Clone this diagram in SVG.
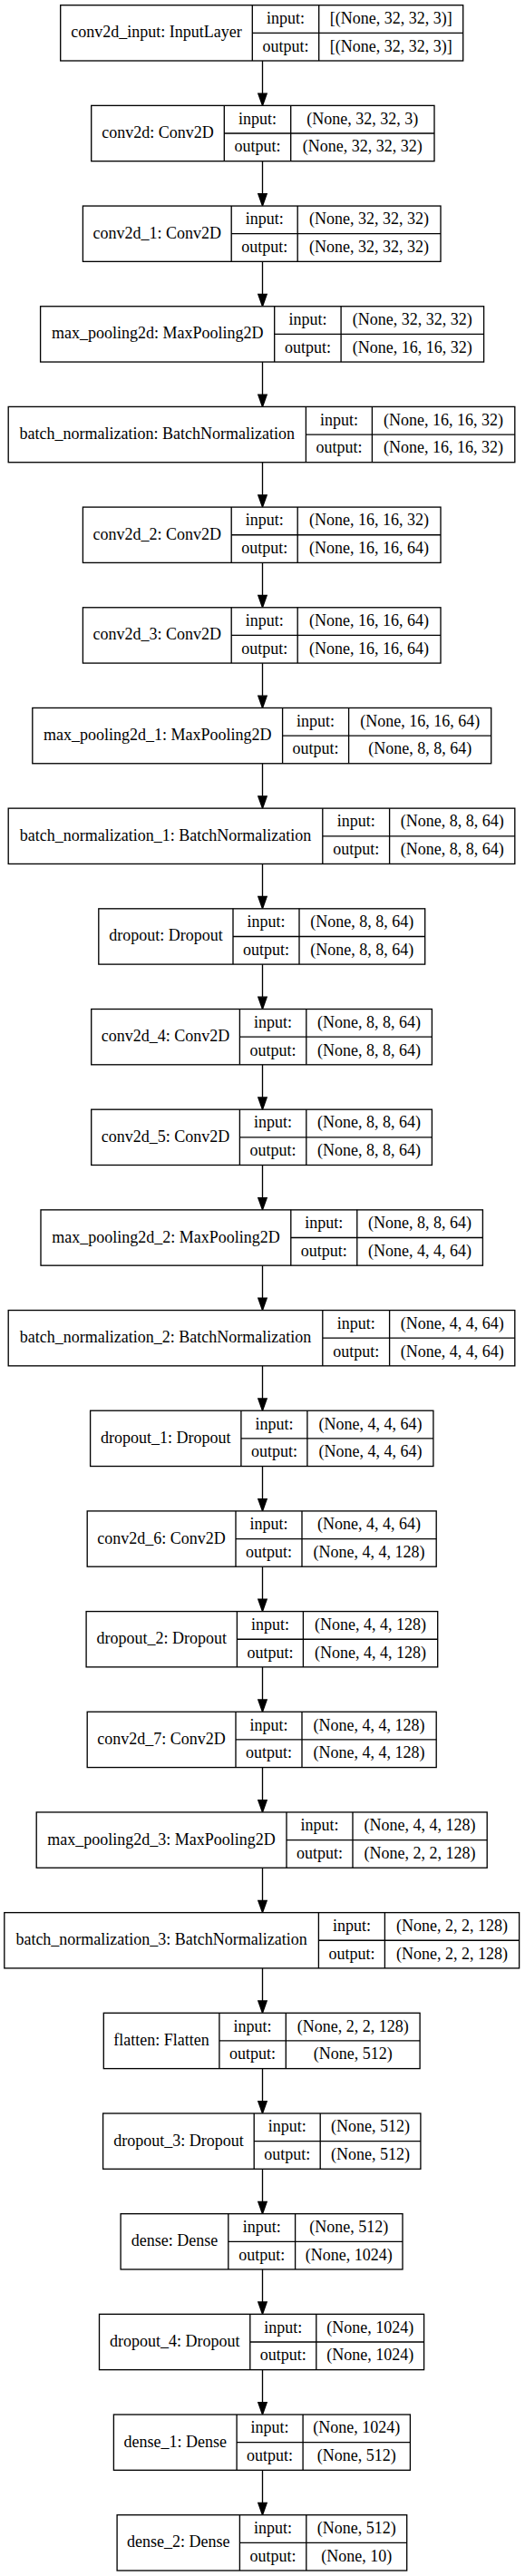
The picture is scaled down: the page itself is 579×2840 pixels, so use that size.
<svg xmlns="http://www.w3.org/2000/svg" xmlns:xlink="http://www.w3.org/1999/xlink" width="579" height="2840" viewBox="0 0 579 2840">
<style>
rect.b{fill:#fff;stroke:#000;stroke-width:1.33}
path.d{fill:none;stroke:#000;stroke-width:1.33}
text{font-family:"Liberation Serif","Times New Roman",serif;font-size:18px;text-anchor:middle;fill:#000}
.e line{stroke:#000;stroke-width:1.33}
.e polygon{fill:#000;stroke:#000;stroke-width:1.33}
</style>
<defs>
<g id="arr" class="e"><line x1="289.5" y1="0" x2="289.5" y2="36.1"/><polygon points="289.5,49.38 284.8,36.08 294.2,36.08"/></g>
</defs>
<rect x="0" y="0" width="579" height="2840" fill="#fff"/>
<g id="edges">
<use xlink:href="#arr" y="67"/>
<use xlink:href="#arr" y="177.68"/>
<use xlink:href="#arr" y="288.36"/>
<use xlink:href="#arr" y="399.04"/>
<use xlink:href="#arr" y="509.72"/>
<use xlink:href="#arr" y="620.4"/>
<use xlink:href="#arr" y="731.08"/>
<use xlink:href="#arr" y="841.76"/>
<use xlink:href="#arr" y="952.44"/>
<use xlink:href="#arr" y="1063.12"/>
<use xlink:href="#arr" y="1173.8"/>
<use xlink:href="#arr" y="1284.48"/>
<use xlink:href="#arr" y="1395.16"/>
<use xlink:href="#arr" y="1505.84"/>
<use xlink:href="#arr" y="1616.52"/>
<use xlink:href="#arr" y="1727.2"/>
<use xlink:href="#arr" y="1837.88"/>
<use xlink:href="#arr" y="1948.56"/>
<use xlink:href="#arr" y="2059.24"/>
<use xlink:href="#arr" y="2169.92"/>
<use xlink:href="#arr" y="2280.6"/>
<use xlink:href="#arr" y="2391.28"/>
<use xlink:href="#arr" y="2501.96"/>
<use xlink:href="#arr" y="2612.64"/>
<use xlink:href="#arr" y="2723.32"/>
</g>
<g id="n0" transform="translate(0,5.7)"><rect class="b" x="66.7" y="0" width="444" height="61.3"/><path class="d" d="M278.3 0V61.3M351.7 0V61.3M278.3 30.65H510.7"/><text x="172.5" y="35.65">conv2d_input: InputLayer</text><text x="315" y="20.3">input:</text><text x="315" y="51">output:</text><text x="431.2" y="20.3">[(None, 32, 32, 3)]</text><text x="431.2" y="51">[(None, 32, 32, 3)]</text></g>
<g id="n1" transform="translate(0,116.38)"><rect class="b" x="100.7" y="0" width="378.3" height="61.3"/><path class="d" d="M247.3 0V61.3M320.7 0V61.3M247.3 30.65H479"/><text x="174" y="35.65">conv2d: Conv2D</text><text x="284" y="20.3">input:</text><text x="284" y="51">output:</text><text x="399.85" y="20.3">(None, 32, 32, 3)</text><text x="399.85" y="51">(None, 32, 32, 32)</text></g>
<g id="n2" transform="translate(0,227.06)"><rect class="b" x="91.4" y="0" width="394.6" height="61.3"/><path class="d" d="M255.2 0V61.3M328.2 0V61.3M255.2 30.65H486"/><text x="173.3" y="35.65">conv2d_1: Conv2D</text><text x="291.7" y="20.3">input:</text><text x="291.7" y="51">output:</text><text x="407.1" y="20.3">(None, 32, 32, 32)</text><text x="407.1" y="51">(None, 32, 32, 32)</text></g>
<g id="n3" transform="translate(0,337.74)"><rect class="b" x="44.6" y="0" width="489" height="61.3"/><path class="d" d="M302.7 0V61.3M376.1 0V61.3M302.7 30.65H533.6"/><text x="173.65" y="35.65">max_pooling2d: MaxPooling2D</text><text x="339.4" y="20.3">input:</text><text x="339.4" y="51">output:</text><text x="454.85" y="20.3">(None, 32, 32, 32)</text><text x="454.85" y="51">(None, 16, 16, 32)</text></g>
<g id="n4" transform="translate(0,448.42)"><rect class="b" x="9.2" y="0" width="558.6" height="61.3"/><path class="d" d="M337.4 0V61.3M410.4 0V61.3M337.4 30.65H567.8"/><text x="173.3" y="35.65">batch_normalization: BatchNormalization</text><text x="373.9" y="20.3">input:</text><text x="373.9" y="51">output:</text><text x="489.1" y="20.3">(None, 16, 16, 32)</text><text x="489.1" y="51">(None, 16, 16, 32)</text></g>
<g id="n5" transform="translate(0,559.1)"><rect class="b" x="91.4" y="0" width="394.6" height="61.3"/><path class="d" d="M255.2 0V61.3M328.2 0V61.3M255.2 30.65H486"/><text x="173.3" y="35.65">conv2d_2: Conv2D</text><text x="291.7" y="20.3">input:</text><text x="291.7" y="51">output:</text><text x="407.1" y="20.3">(None, 16, 16, 32)</text><text x="407.1" y="51">(None, 16, 16, 64)</text></g>
<g id="n6" transform="translate(0,669.78)"><rect class="b" x="91.4" y="0" width="394.6" height="61.3"/><path class="d" d="M255.2 0V61.3M328.2 0V61.3M255.2 30.65H486"/><text x="173.3" y="35.65">conv2d_3: Conv2D</text><text x="291.7" y="20.3">input:</text><text x="291.7" y="51">output:</text><text x="407.1" y="20.3">(None, 16, 16, 64)</text><text x="407.1" y="51">(None, 16, 16, 64)</text></g>
<g id="n7" transform="translate(0,780.46)"><rect class="b" x="35.8" y="0" width="505.9" height="61.3"/><path class="d" d="M311.6 0V61.3M384.6 0V61.3M311.6 30.65H541.7"/><text x="173.7" y="35.65">max_pooling2d_1: MaxPooling2D</text><text x="348.1" y="20.3">input:</text><text x="348.1" y="51">output:</text><text x="463.15" y="20.3">(None, 16, 16, 64)</text><text x="463.15" y="51">(None, 8, 8, 64)</text></g>
<g id="n8" transform="translate(0,891.14)"><rect class="b" x="9.2" y="0" width="558.6" height="61.3"/><path class="d" d="M355.8 0V61.3M429.6 0V61.3M355.8 30.65H567.8"/><text x="182.5" y="35.65">batch_normalization_1: BatchNormalization</text><text x="392.7" y="20.3">input:</text><text x="392.7" y="51">output:</text><text x="498.7" y="20.3">(None, 8, 8, 64)</text><text x="498.7" y="51">(None, 8, 8, 64)</text></g>
<g id="n9" transform="translate(0,1001.82)"><rect class="b" x="108.8" y="0" width="359.9" height="61.3"/><path class="d" d="M257 0V61.3M330 0V61.3M257 30.65H468.7"/><text x="182.9" y="35.65">dropout: Dropout</text><text x="293.5" y="20.3">input:</text><text x="293.5" y="51">output:</text><text x="399.35" y="20.3">(None, 8, 8, 64)</text><text x="399.35" y="51">(None, 8, 8, 64)</text></g>
<g id="n10" transform="translate(0,1112.5)"><rect class="b" x="100.7" y="0" width="375.7" height="61.3"/><path class="d" d="M264.4 0V61.3M337.8 0V61.3M264.4 30.65H476.4"/><text x="182.55" y="35.65">conv2d_4: Conv2D</text><text x="301.1" y="20.3">input:</text><text x="301.1" y="51">output:</text><text x="407.1" y="20.3">(None, 8, 8, 64)</text><text x="407.1" y="51">(None, 8, 8, 64)</text></g>
<g id="n11" transform="translate(0,1223.18)"><rect class="b" x="100.7" y="0" width="375.7" height="61.3"/><path class="d" d="M264.4 0V61.3M337.8 0V61.3M264.4 30.65H476.4"/><text x="182.55" y="35.65">conv2d_5: Conv2D</text><text x="301.1" y="20.3">input:</text><text x="301.1" y="51">output:</text><text x="407.1" y="20.3">(None, 8, 8, 64)</text><text x="407.1" y="51">(None, 8, 8, 64)</text></g>
<g id="n12" transform="translate(0,1333.86)"><rect class="b" x="45" y="0" width="487.4" height="61.3"/><path class="d" d="M320.8 0V61.3M393.8 0V61.3M320.8 30.65H532.4"/><text x="182.9" y="35.65">max_pooling2d_2: MaxPooling2D</text><text x="357.3" y="20.3">input:</text><text x="357.3" y="51">output:</text><text x="463.1" y="20.3">(None, 8, 8, 64)</text><text x="463.1" y="51">(None, 4, 4, 64)</text></g>
<g id="n13" transform="translate(0,1444.54)"><rect class="b" x="9.2" y="0" width="558.6" height="61.3"/><path class="d" d="M355.8 0V61.3M429.6 0V61.3M355.8 30.65H567.8"/><text x="182.5" y="35.65">batch_normalization_2: BatchNormalization</text><text x="392.7" y="20.3">input:</text><text x="392.7" y="51">output:</text><text x="498.7" y="20.3">(None, 4, 4, 64)</text><text x="498.7" y="51">(None, 4, 4, 64)</text></g>
<g id="n14" transform="translate(0,1555.22)"><rect class="b" x="99.6" y="0" width="378.3" height="61.3"/><path class="d" d="M265.9 0V61.3M338.9 0V61.3M265.9 30.65H477.9"/><text x="182.75" y="35.65">dropout_1: Dropout</text><text x="302.4" y="20.3">input:</text><text x="302.4" y="51">output:</text><text x="408.4" y="20.3">(None, 4, 4, 64)</text><text x="408.4" y="51">(None, 4, 4, 64)</text></g>
<g id="n15" transform="translate(0,1665.9)"><rect class="b" x="96.2" y="0" width="385" height="61.3"/><path class="d" d="M260 0V61.3M333 0V61.3M260 30.65H481.2"/><text x="178.1" y="35.65">conv2d_6: Conv2D</text><text x="296.5" y="20.3">input:</text><text x="296.5" y="51">output:</text><text x="407.1" y="20.3">(None, 4, 4, 64)</text><text x="407.1" y="51">(None, 4, 4, 128)</text></g>
<g id="n16" transform="translate(0,1776.58)"><rect class="b" x="95.1" y="0" width="387.6" height="61.3"/><path class="d" d="M261.4 0V61.3M334.4 0V61.3M261.4 30.65H482.7"/><text x="178.25" y="35.65">dropout_2: Dropout</text><text x="297.9" y="20.3">input:</text><text x="297.9" y="51">output:</text><text x="408.55" y="20.3">(None, 4, 4, 128)</text><text x="408.55" y="51">(None, 4, 4, 128)</text></g>
<g id="n17" transform="translate(0,1887.26)"><rect class="b" x="96.2" y="0" width="385" height="61.3"/><path class="d" d="M260 0V61.3M333 0V61.3M260 30.65H481.2"/><text x="178.1" y="35.65">conv2d_7: Conv2D</text><text x="296.5" y="20.3">input:</text><text x="296.5" y="51">output:</text><text x="407.1" y="20.3">(None, 4, 4, 128)</text><text x="407.1" y="51">(None, 4, 4, 128)</text></g>
<g id="n18" transform="translate(0,1997.94)"><rect class="b" x="40.2" y="0" width="497" height="61.3"/><path class="d" d="M316 0V61.3M389 0V61.3M316 30.65H537.2"/><text x="178.1" y="35.65">max_pooling2d_3: MaxPooling2D</text><text x="352.5" y="20.3">input:</text><text x="352.5" y="51">output:</text><text x="463.1" y="20.3">(None, 4, 4, 128)</text><text x="463.1" y="51">(None, 2, 2, 128)</text></g>
<g id="n19" transform="translate(0,2108.62)"><rect class="b" x="4.8" y="0" width="567.8" height="61.3"/><path class="d" d="M351.4 0V61.3M424.4 0V61.3M351.4 30.65H572.6"/><text x="178.1" y="35.65">batch_normalization_3: BatchNormalization</text><text x="387.9" y="20.3">input:</text><text x="387.9" y="51">output:</text><text x="498.5" y="20.3">(None, 2, 2, 128)</text><text x="498.5" y="51">(None, 2, 2, 128)</text></g>
<g id="n20" transform="translate(0,2219.3)"><rect class="b" x="114.3" y="0" width="348.8" height="61.3"/><path class="d" d="M241.9 0V61.3M315.3 0V61.3M241.9 30.65H463.1"/><text x="178.1" y="35.65">flatten: Flatten</text><text x="278.6" y="20.3">input:</text><text x="278.6" y="51">output:</text><text x="389.2" y="20.3">(None, 2, 2, 128)</text><text x="389.2" y="51">(None, 512)</text></g>
<g id="n21" transform="translate(0,2329.98)"><rect class="b" x="113.6" y="0" width="350.3" height="61.3"/><path class="d" d="M280.2 0V61.3M353.2 0V61.3M280.2 30.65H463.9"/><text x="196.9" y="35.65">dropout_3: Dropout</text><text x="316.7" y="20.3">input:</text><text x="316.7" y="51">output:</text><text x="408.55" y="20.3">(None, 512)</text><text x="408.55" y="51">(None, 512)</text></g>
<g id="n22" transform="translate(0,2440.66)"><rect class="b" x="133.1" y="0" width="310.9" height="61.3"/><path class="d" d="M251.8 0V61.3M325.6 0V61.3M251.8 30.65H444"/><text x="192.45" y="35.65">dense: Dense</text><text x="288.7" y="20.3">input:</text><text x="288.7" y="51">output:</text><text x="384.8" y="20.3">(None, 512)</text><text x="384.8" y="51">(None, 1024)</text></g>
<g id="n23" transform="translate(0,2551.34)"><rect class="b" x="109.5" y="0" width="358.1" height="61.3"/><path class="d" d="M275.8 0V61.3M348.8 0V61.3M275.8 30.65H467.6"/><text x="192.65" y="35.65">dropout_4: Dropout</text><text x="312.3" y="20.3">input:</text><text x="312.3" y="51">output:</text><text x="408.2" y="20.3">(None, 1024)</text><text x="408.2" y="51">(None, 1024)</text></g>
<g id="n24" transform="translate(0,2662.02)"><rect class="b" x="125.4" y="0" width="327" height="61.3"/><path class="d" d="M261.1 0V61.3M334.1 0V61.3M261.1 30.65H452.4"/><text x="193.25" y="35.65">dense_1: Dense</text><text x="297.6" y="20.3">input:</text><text x="297.6" y="51">output:</text><text x="393.25" y="20.3">(None, 1024)</text><text x="393.25" y="51">(None, 512)</text></g>
<g id="n25" transform="translate(0,2772.7)"><rect class="b" x="129.1" y="0" width="319.6" height="61.3"/><path class="d" d="M264.4 0V61.3M337.8 0V61.3M264.4 30.65H448.7"/><text x="196.75" y="35.65">dense_2: Dense</text><text x="301.1" y="20.3">input:</text><text x="301.1" y="51">output:</text><text x="393.25" y="20.3">(None, 512)</text><text x="393.25" y="51">(None, 10)</text></g>
</svg>
